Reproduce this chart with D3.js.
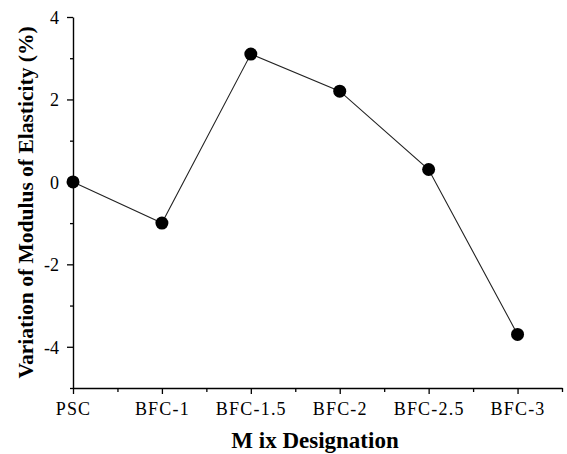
<!DOCTYPE html>
<html>
<head>
<meta charset="utf-8">
<script src="https://cdn.jsdelivr.net/npm/d3@7"></script>
<style>
  body { margin: 0; background: #fff; }
  text { font-family: "Liberation Serif", "Times New Roman", serif; }
</style>
</head>
<body>
<div id="chart"></div>
<script>
// data
var mixes = ["PSC", "BFC-1", "BFC-1.5", "BFC-2", "BFC-2.5", "BFC-3"];
var variation = [0, -1.0, 3.1, 2.2, 0.3, -3.7];
var yTicks = [-4, -2, 0, 2, 4];

var W = 567, H = 454;
var margin = {top: 17, right: 5, bottom: 66, left: 73};

var svg = d3.select("#chart").append("svg")
  .attr("width", W)
  .attr("height", H);

var g = svg.append("g")
  .attr("transform", "translate(" + margin.left + "," + margin.top + ")");

var width = W - margin.left - margin.right,
    height = H - margin.top - margin.bottom;

// x is a linear index scale so the half-step minor ticks fall in between
var x = d3.scaleLinear().domain([0, 5.5]).range([0, 489]);
var y = d3.scaleLinear().domain([-5, 4]).range([height, 0]);

// bottom axis
var xAxis = g.append("g")
  .attr("transform", "translate(0," + height + ")")
  .call(d3.axisBottom(x)
    .tickValues(d3.range(0, 5.51, 0.5))
    .tickSize(0)
    .tickFormat(""));
xAxis.select(".domain").attr("stroke-width", 1.4);
xAxis.selectAll(".tick line")
  .attr("y2", function(d) { return d % 1 === 0 ? 6 : 4; })
  .attr("stroke-width", 1.3);
xAxis.selectAll(".tick").filter(function(d) { return d % 1 === 0 && d <= 5; })
  .append("text")
  .attr("y", 27)
  .attr("fill", "#000")
  .attr("text-anchor", "middle")
  .style("font-size", "18px")
  .style("letter-spacing", "1.2px")
  .text(function(d) { return mixes[d]; });

// left axis
var yAxis = g.append("g")
  .call(d3.axisLeft(y)
    .tickValues(d3.range(-5, 4.01, 1))
    .tickSize(0)
    .tickFormat(""));
yAxis.select(".domain").attr("stroke-width", 1.4);
yAxis.selectAll(".tick line")
  .attr("x2", function(d) { return yTicks.indexOf(d) >= 0 ? -6 : -3; })
  .attr("stroke-width", 1.3);
yAxis.selectAll(".tick").filter(function(d) { return yTicks.indexOf(d) >= 0; })
  .append("text")
  .attr("x", -14)
  .attr("dy", "0.35em")
  .attr("fill", "#000")
  .attr("text-anchor", "end")
  .style("font-size", "18px")
  .text(function(d) { return d; });

// line + markers
var line = d3.line()
  .x(function(d, i) { return x(i); })
  .y(function(d) { return y(d); });

g.append("path")
  .datum(variation)
  .attr("fill", "none")
  .attr("stroke", "#222")
  .attr("stroke-width", 1.1)
  .attr("d", line);

g.selectAll(".dot")
  .data(variation)
  .enter()
  .append("circle")
  .attr("class", "dot")
  .attr("cx", function(d, i) { return x(i); })
  .attr("cy", function(d) { return y(d); })
  .attr("r", 6.5)
  .attr("fill", "#000");

// axis titles
svg.append("text")
  .attr("transform", "translate(33," + (margin.top + height / 2) + ") rotate(-90)")
  .attr("text-anchor", "middle")
  .style("font-size", "21.5px")
  .style("font-weight", "bold")
  .text("Variation of Modulus of Elasticity (%)");

svg.append("text")
  .attr("x", 315)
  .attr("y", 448)
  .attr("text-anchor", "middle")
  .style("font-size", "23px")
  .style("font-weight", "bold")
  .text("M ix Designation");
</script>
</body>
</html>
